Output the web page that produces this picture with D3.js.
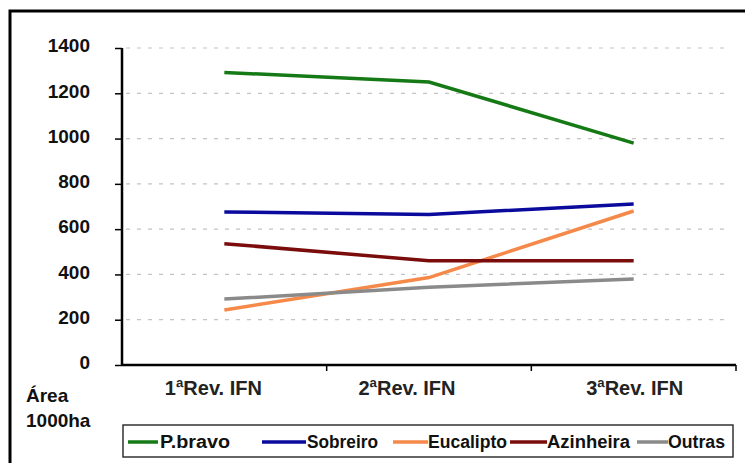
<!DOCTYPE html>
<html><head><meta charset="utf-8">
<script src="https://cdn.jsdelivr.net/npm/d3@7"></script>
<style>body{margin:0;background:#fff}svg{display:block}</style>
</head><body>
<script>
const categories = ["1ªRev. IFN", "2ªRev. IFN", "3ªRev. IFN"];
const seriesNames = ["P.bravo", "Sobreiro", "Eucalipto", "Azinheira", "Outras"];
const pBravo    = [1292, 1250, 980];
const sobreiro  = [676, 665, 711];
const eucalipto = [243, 386, 680];
const azinheira = [536, 460, 460];
const outras    = [291, 343, 380];
const yTicks = [0, 200, 400, 600, 800, 1000, 1200, 1400];
const colors = ["#157a15", "#0a0a9c", "#f5894a", "#7a0c0c", "#8a8a8a"];
const seriesValues = [pBravo, sobreiro, eucalipto, azinheira, outras];

const W = 745, H = 463;
const svg = d3.select("body").append("svg").attr("width", W).attr("height", H);
const font = "'Liberation Sans', Arial, sans-serif";

svg.append("rect").attr("x", 10).attr("y", 11).attr("width", 800).attr("height", 500)
  .attr("fill", "none").attr("stroke", "#000").attr("stroke-width", 3);

const x0 = 122, x1 = 736, yTop = 48, yBot = 365;
const x = d3.scaleBand().domain(categories).range([x0, x1]);
const y = d3.scaleLinear().domain([0, 1400]).range([yBot, yTop]);

// grid
svg.append("g").selectAll("line").data(yTicks.filter(d => d > 0)).join("line")
  .attr("x1", x0 + 4).attr("x2", 730)
  .attr("y1", d => y(d)).attr("y2", d => y(d))
  .attr("stroke", "#c4c4c4").attr("stroke-width", 1.2).attr("stroke-dasharray", "4,7");

// y axis
const ya = svg.append("g").attr("transform", `translate(${x0},0)`)
  .call(d3.axisLeft(y).tickValues(yTicks).tickFormat(d3.format("d")).tickSize(7).tickPadding(25));
ya.select(".domain").attr("stroke-width", 2.5).attr("d", `M0,${yTop}V${yBot}`);
ya.selectAll(".tick line").attr("stroke-width", 1.5);
ya.selectAll("text").attr("font-family", font).attr("font-size", 19).attr("font-weight", "bold")
  .attr("fill", "#111").attr("dy", "0.2em");

// x axis
const labelShift = [-11, -22, 1];
const xa = svg.append("g").attr("transform", `translate(0,${yBot})`)
  .call(d3.axisBottom(x).tickSize(0).tickPadding(16));
xa.select(".domain").attr("stroke-width", 2.5).attr("d", `M${x0},0H${x1}`);
xa.selectAll("text").attr("font-family", font).attr("font-size", 20).attr("font-weight", "bold")
  .attr("fill", "#222").attr("dx", (d, i) => labelShift[i]);
svg.append("g").selectAll("line").data(categories).join("line")
  .attr("x1", d => x(d) + x.bandwidth()).attr("x2", d => x(d) + x.bandwidth())
  .attr("y1", yBot).attr("y2", yBot + 6).attr("stroke", "#000").attr("stroke-width", 1.5);

// y title
svg.append("text").attr("x", 26).attr("y", 402).text("Área")
  .attr("font-family", font).attr("font-size", 19).attr("font-weight", "bold").attr("fill", "#111");
svg.append("text").attr("x", 26).attr("y", 427).text("1000ha")
  .attr("font-family", font).attr("font-size", 19).attr("font-weight", "bold").attr("fill", "#111");

// lines
const line = d3.line().x((d, i) => x(categories[i]) + x.bandwidth() / 2).y(d => y(d));
svg.append("g").selectAll("path").data(seriesValues).join("path")
  .attr("d", d => line(d)).attr("fill", "none")
  .attr("stroke", (d, i) => colors[i]).attr("stroke-width", 3.5);

// legend
svg.append("rect").attr("x", 123).attr("y", 425).attr("width", 610).attr("height", 32)
  .attr("fill", "#fff").attr("stroke", "#333").attr("stroke-width", 1.5);
const legX = [[128, 158, 160, 70], [262, 306, 307, 71], [393, 428, 428, 79], [510, 547, 547, 83], [637, 668, 668, 57]];
const lg = svg.append("g").selectAll("g").data(seriesNames).join("g");
lg.append("line").attr("x1", (d, i) => legX[i][0]).attr("x2", (d, i) => legX[i][1])
  .attr("y1", 442).attr("y2", 442).attr("stroke", (d, i) => colors[i]).attr("stroke-width", 3.5);
lg.append("text").attr("x", (d, i) => legX[i][2]).attr("y", 448).text(d => d)
  .attr("font-family", font).attr("font-size", 18).attr("font-weight", "bold").attr("fill", "#111")
  .attr("textLength", (d, i) => legX[i][3]).attr("lengthAdjust", "spacingAndGlyphs");
</script>
</body></html>
